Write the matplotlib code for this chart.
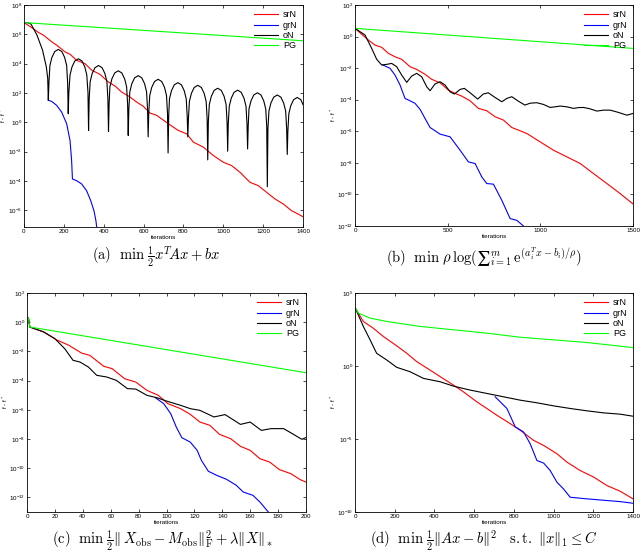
import numpy as np
import matplotlib.pyplot as plt

plt.rcParams['mathtext.fontset'] = 'cm'
plt.rcParams['font.family'] = ['Liberation Sans', 'DejaVu Sans']

labels = ['srN', 'grN', 'oN', 'PG']
colors = ['red', 'blue', 'black', 'lime']

# all values below are log10(f - f*)

# (a) quadratic
srN_a_it = [0, 45, 72, 97, 139, 164, 206, 231, 264, 306, 340, 381, 423, 457, 490, 532, 565, 599,
            632, 666, 724, 774, 816, 850, 900, 950, 1000, 1042, 1084, 1134, 1176, 1218, 1260,
            1301, 1343, 1376, 1400]
srN_a = [6.8, 6.4, 6.13, 5.95, 5.49, 5.26, 4.8, 4.64, 4.23, 4.0, 3.55, 3.27, 2.75, 2.47, 2.06, 1.72,
         1.38, 1.08, 0.63, 0.47, -0.1, -0.56, -0.79, -1.36, -1.7, -2.27, -2.73, -2.96, -3.42, -4.1,
         -4.33, -4.79, -5.24, -5.58, -6.04, -6.27, -6.45]
grN_a_it = [122, 139, 164, 189, 214, 231, 239, 243, 264, 289, 314, 335, 351, 361, 365]
grN_a = [1.5, 1.42, 1.15, 0.69, -0.1, -1.25, -2.62, -3.87, -3.99, -4.21, -4.67, -5.36, -6.04, -6.73, -7.18]
oN_a_it = [0, 20, 35, 65, 93, 112, 119, 122,
           125, 130, 140, 154, 172, 190, 204, 214, 219, 222,
           225, 231, 241, 255, 273, 291, 305, 315, 321, 324,
           327, 332, 342, 356, 374, 392, 406, 416, 421, 424,
           427, 431, 441, 455, 473, 491, 505, 515, 520, 523,
           526, 531, 541, 555, 573, 591, 605, 615, 620, 623,
           626, 631, 641, 655, 673, 691, 705, 715, 720, 723,
           726, 730, 740, 754, 772, 790, 804, 814, 819, 822,
           825, 830, 840, 854, 872, 890, 904, 914, 919, 922,
           925, 930, 940, 954, 972, 990, 1004, 1014, 1019, 1022,
           1025, 1030, 1040, 1054, 1072, 1090, 1104, 1114, 1119, 1122,
           1125, 1129, 1139, 1153, 1171, 1189, 1203, 1213, 1218, 1221,
           1224, 1229, 1239, 1253, 1271, 1289, 1303, 1313, 1318, 1321,
           1324, 1329, 1339, 1353, 1371, 1389, 1400]
oN_a = [6.8, 6.79, 6.7, 5.95, 4.92, 3.78, 3.0, 1.5,
        2.67, 3.87, 4.42, 4.82, 4.97, 4.82, 4.42, 3.87, 2.67, 0.58,
        2.03, 3.23, 3.78, 4.18, 4.33, 4.18, 3.78, 3.23, 2.03, -0.56,
        1.57, 2.77, 3.32, 3.72, 3.87, 3.72, 3.32, 2.77, 1.57, -0.63,
        1.21, 2.41, 2.96, 3.36, 3.51, 3.36, 2.96, 2.41, 1.21, -0.9,
        0.88, 2.08, 2.63, 3.03, 3.18, 3.03, 2.63, 2.08, 0.88, -1.0,
        0.63, 1.83, 2.38, 2.78, 2.93, 2.78, 2.38, 1.83, 0.63, -2.1,
        0.4, 1.6, 2.15, 2.55, 2.7, 2.55, 2.15, 1.6, 0.4, -1.0,
        0.22, 1.42, 1.97, 2.37, 2.52, 2.37, 1.97, 1.42, 0.22, -2.57,
        0.02, 1.22, 1.77, 2.17, 2.32, 2.17, 1.77, 1.22, 0.02, -1.98,
        -0.11, 1.09, 1.64, 2.04, 2.19, 2.04, 1.64, 1.09, -0.11, -1.82,
        -0.29, 0.91, 1.46, 1.86, 2.01, 1.86, 1.46, 0.91, -0.29, -4.4,
        -0.44, 0.76, 1.31, 1.71, 1.86, 1.71, 1.31, 0.76, -0.44, -2.2,
        -0.61, 0.59, 1.14, 1.54, 1.69, 1.54, 1.2]
PG_a_it = [0, 1400]
PG_a = [6.8, 5.56]

# (b) log-sum-exp
srN_b_it = [0, 72, 108, 144, 180, 216, 252, 297, 333, 378, 414, 459, 504, 540, 576, 621, 666, 711,
            756, 801, 846, 927, 999, 1071, 1143, 1215, 1287, 1359, 1431, 1500]
srN_b = [0.52, -0.22, -0.54, -0.68, -1.06, -1.28, -1.44, -1.91, -2.08, -2.39, -2.71, -2.93, -3.39,
         -3.6, -3.77, -4.07, -4.55, -4.7, -5.08, -5.29, -5.76, -6.14, -6.67, -7.2, -7.62, -8.04,
         -8.68, -9.31, -9.95, -10.6]
grN_b_it = [150, 189, 216, 243, 270, 297, 324, 351, 378, 405, 459, 513, 567, 612, 648, 684, 711,
            747, 792, 837, 873, 909]
grN_b = [-1.8, -2.01, -2.44, -3.07, -3.92, -4.07, -4.23, -4.61, -5.19, -5.76, -6.18, -6.35, -7.2,
         -7.94, -8.04, -8.89, -9.31, -9.35, -10.37, -11.53, -11.64, -12.0]
oN_b_it = [0, 54, 90, 117, 144, 171, 198, 225, 252, 279, 306, 333, 360, 387, 405, 432, 459, 486,
           513, 536, 567, 590, 621, 662, 692, 719, 755, 792, 819, 846, 881, 917, 945, 981, 1017,
           1053, 1080, 1107, 1143, 1179, 1206, 1233, 1269, 1305, 1341, 1377, 1420, 1467, 1500]
oN_b = [0.52, 0.10, -0.75, -1.44, -1.8, -1.76, -1.7, -1.91, -2.44, -2.9, -2.5, -2.33, -2.55, -3.18,
        -3.43, -3.0, -2.86, -3.07, -3.5, -3.64, -3.35, -3.28, -3.56, -3.96, -3.64, -3.56, -3.85,
        -4.13, -3.92, -3.81, -4.09, -4.34, -4.22, -4.19, -4.3, -4.49, -4.45, -4.4, -4.45, -4.55,
        -4.5, -4.49, -4.58, -4.72, -4.66, -4.66, -4.8, -4.98, -4.87]
PG_b_it = [0, 1500]
PG_b = [0.52, -0.75]

# (c) matrix completion
srN_c_it = [1, 2, 12, 21, 30, 39, 45, 55, 61, 70, 78, 86, 94, 101, 110, 117, 124, 131, 138, 146,
            153, 160, 167, 174, 181, 189, 196, 200]
srN_c = [0.3, -0.33, -0.67, -1.2, -1.58, -2.11, -2.27, -3.02, -3.18, -3.87, -4.1, -4.67, -5.0,
         -5.58, -5.92, -6.31, -6.84, -7.06, -7.68, -7.98, -8.5, -8.78, -9.35, -9.58, -10.1,
         -10.37, -10.79, -10.95]
grN_c_it = [92, 98, 103, 107, 111, 117, 122, 125, 130, 136, 143, 150, 155, 162, 167, 172, 173]
grN_c = [-5.17, -5.58, -6.26, -7.18, -7.91, -8.21, -8.78, -9.46, -10.21, -10.49, -10.76, -11.17,
         -11.63, -11.86, -12.32, -12.89, -13.0]
oN_c_it = [1, 2, 12, 20, 27, 33, 38, 44, 50, 57, 64, 72, 78, 86, 93, 100, 110, 117, 124, 134, 142,
           153, 160, 168, 175, 184, 191, 197, 200]
oN_c = [0.3, -0.33, -0.67, -1.13, -1.81, -2.61, -2.73, -3.07, -3.64, -3.75, -3.98, -4.55, -4.58,
        -5.01, -5.17, -5.4, -5.69, -5.92, -6.04, -6.49, -6.33, -7.0, -6.84, -7.41, -7.29, -7.29,
        -7.68, -8.02, -7.9]
PG_c_it = [1, 2, 200]
PG_c = [0.3, -0.33, -3.46]

# (d) l1-constrained least squares
srN_d_it = [0, 42, 92, 143, 210, 261, 311, 378, 429, 496, 546, 613, 664, 714, 781, 832, 899, 950,
            1017, 1067, 1134, 1202, 1269, 1336, 1400]
srN_d = [4.01, 3.05, 2.59, 2.02, 1.38, 0.87, 0.3, -0.28, -0.73, -1.31, -1.77, -2.45, -2.91, -3.37,
         -3.94, -4.4, -5.09, -5.44, -6.01, -6.58, -7.16, -7.61, -8.19, -8.58, -9.1]
grN_d_it = [706, 765, 807, 849, 882, 916, 950, 983, 1017, 1050, 1084, 1168, 1336, 1400]
grN_d = [-2.11, -2.91, -4.17, -4.52, -5.32, -6.47, -6.65, -7.16, -7.96, -8.42, -8.99, -9.1, -9.29, -9.4]
oN_d_it = [0, 42, 76, 109, 160, 210, 277, 345, 429, 496, 580, 664, 748, 832, 916, 1000, 1084,
           1168, 1252, 1336, 1400]
oN_d = [4.01, 2.71, 1.79, 0.87, 0.41, -0.09, -0.39, -0.85, -1.08, -1.38, -1.65, -1.88, -2.11,
        -2.34, -2.52, -2.73, -2.91, -3.07, -3.21, -3.3, -3.44]
PG_d_it = [0, 17, 76, 160, 328, 496, 664, 832, 1000, 1168, 1400]
PG_d = [4.01, 3.62, 3.28, 3.05, 2.71, 2.48, 2.25, 1.97, 1.79, 1.61, 1.26]

captions = [
    r'$\mathrm{(a)}\ \ \min\ \frac{1}{2}x^T\!Ax+bx$',
    r'$\mathrm{(b)}\ \ \min\ \rho\,\log(∑_{i=1}^m\,\mathrm{e}^{(a_i^Tx-b_i)/\rho})$',
    r'$\mathrm{(c)}\ \ \min\ \frac{1}{2}\|\,X_{\mathrm{obs}}-M_{\mathrm{obs}}\|_{\mathrm{F}}^2+\lambda\|X\|_*$',
    r'$\mathrm{(d)}\ \ \min\ \frac{1}{2}\|Ax-b\|^2\quad \mathrm{s.t.}\ \|x\|_1\leq C$',
]

panels = [
    dict(data=[(srN_a_it, srN_a), (grN_a_it, grN_a), (oN_a_it, oN_a), (PG_a_it, PG_a)],
         xlim=(0, 1400), xticks=range(0, 1401, 200), ylim=(-7.15, 8), yexp=range(8, -7, -2)),
    dict(data=[(srN_b_it, srN_b), (grN_b_it, grN_b), (oN_b_it, oN_b), (PG_b_it, PG_b)],
         xlim=(0, 1500), xticks=range(0, 1501, 500), ylim=(-12, 2), yexp=range(2, -13, -2)),
    dict(data=[(srN_c_it, srN_c), (grN_c_it, grN_c), (oN_c_it, oN_c), (PG_c_it, PG_c)],
         xlim=(0, 200), xticks=range(0, 201, 20), ylim=(-13, 2), yexp=range(2, -13, -2)),
    dict(data=[(srN_d_it, srN_d), (grN_d_it, grN_d), (oN_d_it, oN_d), (PG_d_it, PG_d)],
         xlim=(0, 1400), xticks=range(0, 1401, 200), ylim=(-10, 5), yexp=range(5, -11, -5)),
]

# axes boxes in pixels: left, top, right, bottom
boxes = [(24, 5, 303, 227), (355, 5, 633, 226), (27, 293, 306, 512), (355, 293, 633, 512)]
cap_pos = [(156, 257), (484, 257), (163, 541), (484, 541)]
ylab_gap = [16, 17, 17, 17]

W, H = 640, 554
fig = plt.figure(figsize=(W / 100, H / 100), dpi=100)

for p, box, cap, cpos, gap in zip(panels, boxes, captions, cap_pos, ylab_gap):
    l, t, r, b = box
    ax = fig.add_axes([l / W, 1 - b / H, (r - l) / W, (b - t) / H])
    for (it, lv), lab, col in zip(p['data'], labels, colors):
        ax.semilogy(it, 10.0 ** np.array(lv), color=col, lw=0.8, label=lab)
    ax.set_xlim(*p['xlim'])
    ax.set_ylim(10.0 ** p['ylim'][0], 10.0 ** p['ylim'][1])
    ax.set_xticks(list(p['xticks']))
    ax.set_yticks([10.0 ** e for e in p['yexp']])
    ax.minorticks_off()
    ax.tick_params(direction='in', top=True, right=True, labelsize=4.5, length=2, width=0.5, pad=1.5)
    for s in ax.spines.values():
        s.set_linewidth(0.6)
    ax.set_xlabel('iterations', fontsize=4.5, labelpad=0.5)
    ax.set_ylabel('f - f$^*$', fontsize=4.5)
    ax.yaxis.set_label_coords(-gap / (r - l), 0.5)
    leg = ax.legend(loc='upper right', fontsize=6.5, framealpha=0, edgecolor='black',
                    fancybox=False, borderaxespad=0.3, handlelength=2.6, labelspacing=0.15,
                    borderpad=0.3, handletextpad=0.6)
    leg.get_frame().set_linewidth(0.6)
    fig.text(cpos[0] / W, 1 - cpos[1] / H, cap, ha='center', va='center', fontsize=10.5)

fig.savefig('out.png', dpi=100)
